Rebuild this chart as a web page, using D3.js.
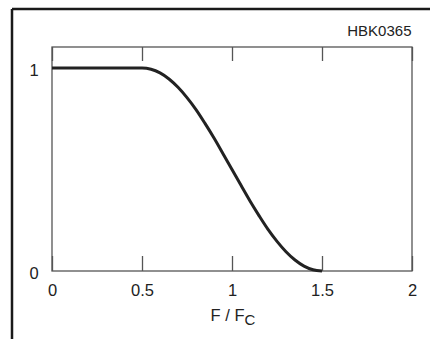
<!DOCTYPE html>
<html><head><meta charset="utf-8">
<script src="https://cdn.jsdelivr.net/npm/d3@7"></script>
<style>body{margin:0;background:#fff}svg{display:block}text{font-family:"Liberation Sans",Arial,sans-serif;fill:#222}</style>
</head><body><svg id="c" width="430" height="339"></svg>
<script>
const freq = [0, 0.5, 0.55, 0.6, 0.65, 0.7, 0.75, 0.8, 0.85, 0.9, 0.95, 1.0, 1.05, 1.1, 1.15, 1.2, 1.25, 1.3, 1.35, 1.4, 1.45, 1.5];
const resp = [1, 1, 0.994, 0.976, 0.946, 0.905, 0.854, 0.795, 0.727, 0.655, 0.578, 0.5, 0.422, 0.345, 0.273, 0.205, 0.146, 0.095, 0.054, 0.024, 0.006, 0];
const xTicks = [0, 0.5, 1, 1.5, 2];
const xTickLabels = ["0", "0.5", "1", "1.5", "2"];
const yTicks = [0, 1];
const yTickLabels = ["0", "1"];
const code = "HBK0365";

const svg = d3.select("#c");
const L = 52, R = 412, T = 47, B = 271;
const x = d3.scaleLinear().domain([0, 2]).range([L, R]);
const y = d3.scaleLinear().domain([0, 1]).range([B, 68]);

// outer frame (left + top)
svg.append("line").attr("x1", 12).attr("y1", 9).attr("x2", 430).attr("y2", 9).attr("stroke", "#1a1a1a").attr("stroke-width", 2.5);
svg.append("line").attr("x1", 12).attr("y1", 9).attr("x2", 12).attr("y2", 339).attr("stroke", "#1a1a1a").attr("stroke-width", 2.5);

svg.append("text").attr("x", 411.5).attr("y", 35.5).attr("text-anchor", "end").attr("font-size", 15).text(code);

// plot box
svg.append("rect").attr("x", L).attr("y", T).attr("width", R - L).attr("height", B - T)
  .attr("fill", "none").attr("stroke", "#555").attr("stroke-width", 1.3);

// x ticks inward top & bottom
const bottomAxis = d3.axisBottom(x).tickValues(xTicks).tickSize(-15).tickFormat((d, i) => xTickLabels[i]).tickPadding(13);
const gb = svg.append("g").attr("transform", `translate(0,${B})`).call(bottomAxis);
gb.select(".domain").remove();
gb.selectAll("line").attr("stroke", "#555").attr("stroke-width", 1.3);
gb.selectAll("text").attr("font-size", 16.5).attr("fill", "#222").attr("font-family", '"Liberation Sans",Arial,sans-serif');

const topAxis = d3.axisTop(x).tickValues(xTicks).tickSize(-14).tickFormat("");
const gt = svg.append("g").attr("transform", `translate(0,${T})`).call(topAxis);
gt.select(".domain").remove();
gt.selectAll("line").attr("stroke", "#555").attr("stroke-width", 1.3);

// y labels
svg.selectAll(".yl").data(yTicks).enter().append("text")
  .attr("x", 34).attr("y", d => y(d) + 8).attr("text-anchor", "middle").attr("font-size", 16.5)
  .text((d, i) => yTickLabels[i]);

// x-axis title
const xt = svg.append("text").attr("x", 233).attr("y", 321).attr("text-anchor", "middle").attr("font-size", 16.5);
xt.append("tspan").text("F / F");
xt.append("tspan").attr("font-size", 15).attr("dy", 4).text("C");

// curve
const line = d3.line().x((d, i) => x(freq[i])).y(d => y(d)).curve(d3.curveMonotoneX);
svg.append("path").datum(resp).attr("d", line).attr("fill", "none").attr("stroke", "#222").attr("stroke-width", 3);
</script></body></html>
